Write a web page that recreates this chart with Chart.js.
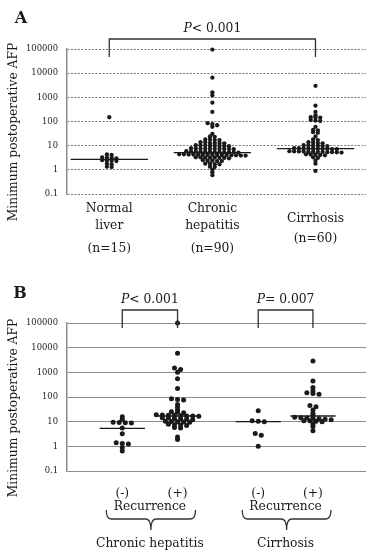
<!DOCTYPE html>
<html>
<head>
<meta charset="utf-8">
<script src="https://cdn.jsdelivr.net/npm/chart.js@4.4.1/dist/chart.umd.min.js"></script>
<style>
  body { margin: 0; background: #fff; }
  canvas { display: block; }
</style>
</head>
<body>
<canvas id="chartA" width="370" height="275"></canvas>
<canvas id="chartB" width="370" height="277"></canvas>
<script>
// Panel A - all patients, by liver histology
const groupsA = ["Normal liver", "Chronic hepatitis", "Cirrhosis"];
const sizesA = ["(n=15)", "(n=90)", "(n=60)"];
const normalLiver = [150, 4.3, 4.1, 3.3, 3.2, 3.1, 3.0, 2.5, 2.4, 2.4, 2.3, 1.8, 1.7, 1.35, 1.3];
const chronicHepatitis = [95000, 6500, 1600, 1200, 600, 250, 85, 78, 70, 60,
  31, 24, 23, 18, 18, 17, 17, 14, 14, 13, 13, 13, 12.5,
  10.5, 10.3, 10.2, 10, 10, 9.8, 9.7, 9.5,
  7.8, 7.7, 7.6, 7.5, 7.5, 7.4, 7.4, 7.3, 7.2, 7.1,
  5.9, 5.8, 5.8, 5.7, 5.6, 5.6, 5.5, 5.5, 5.4, 5.4, 5.3, 5.2,
  4.4, 4.4, 4.3, 4.3, 4.3, 4.2, 4.2, 4.2, 4.1, 4.1, 4.1, 4.0, 4.0, 3.9, 3.9,
  3.3, 3.3, 3.2, 3.2, 3.2, 3.1, 3.1, 3.0,
  2.5, 2.4, 2.4, 2.3, 2.3, 1.8, 1.8, 1.7, 1.7, 1.35, 1.3, 1.0, 0.8, 0.6];
const cirrhosis = [3000, 450, 250, 180, 150, 150, 145, 115, 110, 105, 60, 45, 43, 36, 34,
  24, 18, 17, 14, 13.5, 13, 12.5, 10.5, 10.2, 10, 10, 9.8, 9.6,
  7.9, 7.8, 7.7, 7.6, 7.5, 7.5, 7.4, 7.3, 7.2, 7.1,
  5.9, 5.8, 5.8, 5.7, 5.6, 5.6, 5.5, 5.5, 5.4, 5.4, 5.3, 5.2,
  4.4, 4.3, 4.2, 4.1, 4.0, 3.3, 3.1, 2.4, 1.8, 0.9];
const mediansA = [2.7, 5.2, 7.5];
const pValueA = "< 0.001";

// Panel B - chronic hepatitis / cirrhosis split by recurrence
const recurrenceLabels = ["(-)", "(+)", "(-)", "(+)"];
const groupsB = ["Chronic hepatitis", "Cirrhosis"];
const chronicNoRec = [16, 12.5, 9.5, 9.2, 9, 8.8, 5.5, 3.2, 1.4, 1.3, 1.25, 0.9, 0.65];
const chronicRec = [100000, 6000, 1500, 1300, 1000, 550, 220, 85, 80, 75, 50, 38,
  30, 25, 24, 23, 19, 18.5, 18, 18, 17.5, 17, 17, 16.5,
  14.5, 14, 13.5, 13, 12.5, 12, 10.5, 10.2, 10, 9.8, 9.5,
  7.8, 7.5, 7.3, 7.0, 5.8, 5.5, 2.4, 1.9];
const cirrhosisNoRec = [28, 11, 10.5, 10, 3.3, 2.8, 1.0];
const cirrhosisRec = [2900, 450, 240, 180, 150, 140, 130, 45, 40, 30, 22, 18,
  15, 14.5, 14, 13.5, 13, 12.5, 12, 11, 10.8, 10.5, 10, 8, 6.3, 4.3];
const mediansB = [5.3, 17, 10, 17];
const pValuesB = ["< 0.001", "= 0.007"];

const yTicks = [0.1, 1, 10, 100, 1000, 10000, 100000];

const SERIF = '"DejaVu Serif", "Liberation Serif", serif';
const INK = '#1a1a1a';
const LABEL = '12.3px ' + SERIF;
const posA = [0, 1, 2];
const posB = [0, 1, 2.46, 3.45];

// spread points of similar value side by side (dot-plot rows)
function swarm(values, center, pitch) {
  const rows = {};
  values.forEach(v => {
    const k = Math.round(Math.log10(v) / 0.125);
    (rows[k] = rows[k] || []).push(v);
  });
  const pts = [];
  Object.values(rows).forEach(r => {
    r.forEach((v, i) => pts.push({ x: center + (i - (r.length - 1) / 2) * pitch, y: v }));
  });
  return pts;
}

function dots(values, center, pitch, r) {
  return { data: swarm(values, center, pitch), backgroundColor: INK, borderWidth: 0,
           pointRadius: r, clip: false };
}

function median(m, center, hw) {
  return { data: [{ x: center - hw, y: m }, { x: center + hw, y: m }], showLine: true,
           borderColor: INK, borderWidth: 1.3, pointRadius: 0, clip: false };
}

function yScale(dash, color) {
  return {
    type: 'logarithmic', min: 0.1, max: 100000,
    afterBuildTicks: s => { s.ticks = yTicks.map(v => ({ value: v })); },
    afterFit: s => { s.width = 67; },
    ticks: { callback: v => String(v), color: INK, padding: 9,
             font: { family: SERIF, size: 8.4 } },
    grid: { color: color, lineWidth: 1, drawTicks: false },
    border: { color: '#8c8c8c', width: 1.5, dash: dash }
  };
}

function text(ctx, s, x, y, font) {
  ctx.font = font || LABEL;
  ctx.fillStyle = INK;
  ctx.textAlign = 'center';
  ctx.textBaseline = 'middle';
  ctx.fillText(s, x, y);
}

function pLabel(ctx, rest, cx, cy) {
  ctx.font = 'italic ' + LABEL;
  const wp = ctx.measureText('P').width;
  ctx.font = LABEL;
  const wr = ctx.measureText(rest).width;
  const x0 = cx - (wp + wr) / 2;
  ctx.fillStyle = INK;
  ctx.textAlign = 'left';
  ctx.textBaseline = 'middle';
  ctx.font = 'italic ' + LABEL;
  ctx.fillText('P', x0, cy);
  ctx.font = LABEL;
  ctx.fillText(rest, x0 + wp, cy);
}

function bracket(ctx, x1, x2, top, bottom) {
  ctx.beginPath();
  ctx.moveTo(x1, bottom);
  ctx.lineTo(x1, top);
  ctx.lineTo(x2, top);
  ctx.lineTo(x2, bottom);
  ctx.strokeStyle = '#333';
  ctx.lineWidth = 1.3;
  ctx.stroke();
}

function brace(ctx, x1, x2, y0) {
  const h = 9, stem = 11, mid = (x1 + x2) / 2;
  ctx.beginPath();
  ctx.moveTo(x1, y0);
  ctx.quadraticCurveTo(x1, y0 + h, x1 + 5, y0 + h);
  ctx.lineTo(mid - 5, y0 + h);
  ctx.quadraticCurveTo(mid, y0 + h, mid, y0 + h + stem);
  ctx.quadraticCurveTo(mid, y0 + h, mid + 5, y0 + h);
  ctx.lineTo(x2 - 5, y0 + h);
  ctx.quadraticCurveTo(x2, y0 + h, x2, y0);
  ctx.strokeStyle = '#333';
  ctx.lineWidth = 1.3;
  ctx.stroke();
}

function yTitle(ctx, cy) {
  ctx.save();
  ctx.translate(14, cy);
  ctx.rotate(-Math.PI / 2);
  text(ctx, 'Minimum postoperative AFP', 0, 0);
  ctx.restore();
}

const decorA = {
  id: 'decorA',
  afterDraw(chart) {
    const ctx = chart.ctx, xs = chart.scales.x;
    ctx.save();
    text(ctx, 'A', 21, 19, 'bold 16px ' + SERIF);
    yTitle(ctx, 132);
    bracket(ctx, xs.getPixelForValue(posA[0]), xs.getPixelForValue(posA[2]), 39, 57);
    pLabel(ctx, pValueA, (xs.getPixelForValue(posA[0]) + xs.getPixelForValue(posA[2])) / 2, 29);
    groupsA.forEach((g, i) => {
      const x = xs.getPixelForValue(posA[i]);
      const words = g.split(' ');
      if (words.length > 1) {
        text(ctx, words[0], x, 208.5);
        text(ctx, words[1], x, 226);
        text(ctx, sizesA[i], x, 248.5);
      } else {
        text(ctx, g, x, 218.5);
        text(ctx, sizesA[i], x, 238.5);
      }
    });
    ctx.restore();
  }
};

const decorB = {
  id: 'decorB',
  afterDraw(chart) {
    const ctx = chart.ctx, xs = chart.scales.x;
    const px = i => xs.getPixelForValue(posB[i]);
    ctx.save();
    text(ctx, 'B', 20, 19, 'bold 16px ' + SERIF);
    yTitle(ctx, 133);
    for (let g = 0; g < 2; g++) {
      const a = px(2 * g), b = px(2 * g + 1);
      bracket(ctx, a, b, 35, 53);
      pLabel(ctx, pValuesB[g], (a + b) / 2, 25);
      text(ctx, recurrenceLabels[2 * g], a, 219);
      text(ctx, recurrenceLabels[2 * g + 1], b, 219);
      text(ctx, 'Recurrence', (a + b) / 2, 231.5);
      brace(ctx, a - 16, b + 18, 235);
      text(ctx, groupsB[g], (a + b) / 2, 269);
    }
    ctx.restore();
  }
};

const common = {
  responsive: false, animation: false, devicePixelRatio: 1,
  plugins: { legend: { display: false }, tooltip: { enabled: false } }
};

new Chart(document.getElementById('chartA'), {
  type: 'scatter',
  data: {
    datasets: [
      dots(normalLiver, posA[0], 0.046, 2.15),
      dots(chronicHepatitis, posA[1], 0.046, 2.15),
      dots(cirrhosis, posA[2], 0.046, 2.15),
      ...mediansA.map((m, i) => median(m, posA[i], 0.375))
    ]
  },
  options: {
    ...common,
    layout: { padding: { top: 49, bottom: 81, left: 0, right: 0 } },
    scales: {
      x: { type: 'linear', min: -0.41, max: 2.49, display: false },
      y: yScale([2, 1.5], '#7a7a7a')
    }
  },
  plugins: [decorA]
});

new Chart(document.getElementById('chartB'), {
  type: 'scatter',
  data: {
    datasets: [
      dots(chronicNoRec, posB[0], 0.11, 2.5),
      dots(chronicRec, posB[1], 0.11, 2.5),
      dots(cirrhosisNoRec, posB[2], 0.11, 2.5),
      dots(cirrhosisRec, posB[3], 0.11, 2.5),
      ...mediansB.map((m, i) => median(m, posB[i], 0.41))
    ]
  },
  options: {
    ...common,
    layout: { padding: { top: 48, bottom: 81, left: 0, right: 0 } },
    scales: {
      x: { type: 'linear', min: -1.0, max: 4.41, display: false },
      y: yScale([], '#8c8c8c')
    }
  },
  plugins: [decorB]
});
</script>
</body>
</html>
